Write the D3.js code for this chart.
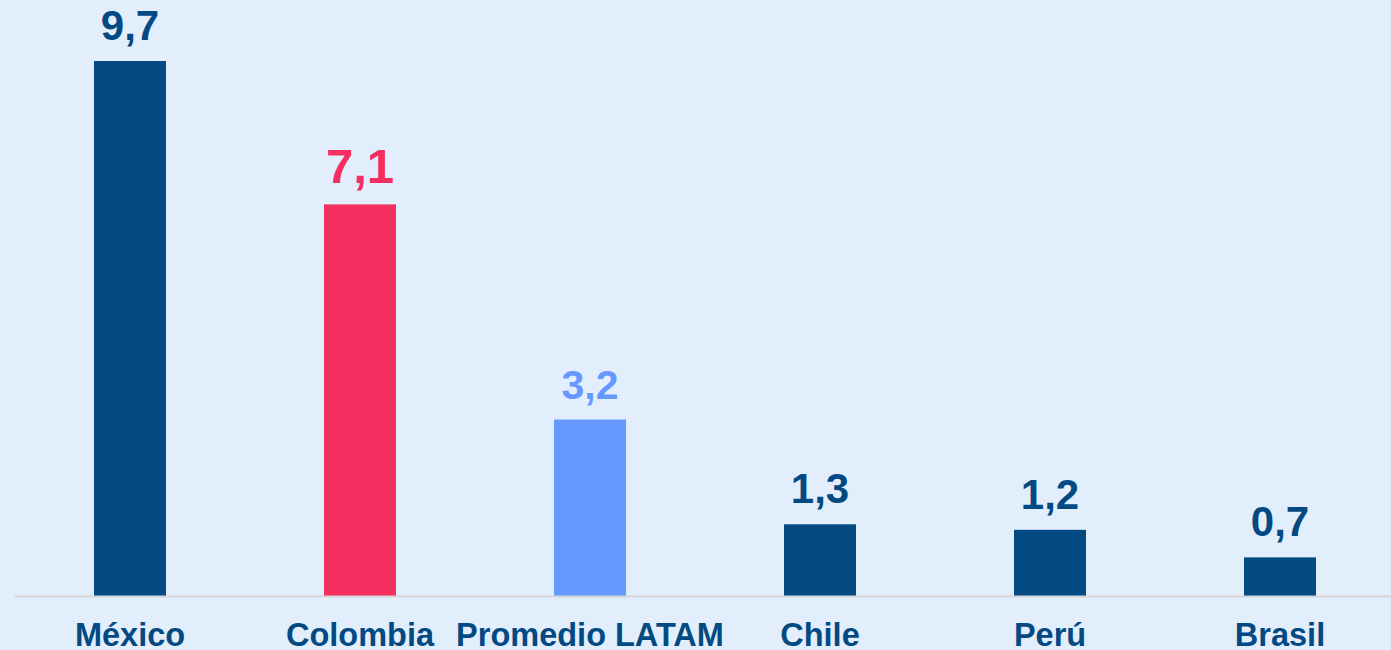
<!DOCTYPE html>
<html>
<head>
<meta charset="utf-8">
<script src="https://cdn.jsdelivr.net/npm/d3@7"></script>
<style>
  html, body { margin: 0; padding: 0; background: #e3eefd; }
  svg { display: block; font-family: "Liberation Sans", Arial, sans-serif; }
</style>
</head>
<body>
<svg id="chart"></svg>
<script>
// data
var countries = ["México", "Colombia", "Promedio LATAM", "Chile", "Perú", "Brasil"];
var values = [9.7, 7.1, 3.2, 1.3, 1.2, 0.7];
var barColors = ["#034a83", "#f53060", "#6699ff", "#034a83", "#034a83", "#034a83"];
var labelSizes = [42, 49, 41, 42, 42, 42];

var width = 1391, height = 650;
var baseY = 596;

var svg = d3.select("#chart").attr("width", width).attr("height", height);

svg.append("rect").attr("width", width).attr("height", height).attr("fill", "#e3eefd");

var x = d3.scaleBand()
    .domain(countries)
    .range([15, 1395])
    .paddingInner(0.687)
    .paddingOuter(0.3435);

var y = d3.scaleLinear()
    .domain([0, 9.7])
    .range([baseY, 61]);

var rows = countries.map(function (c, i) {
    return { name: c, value: values[i], color: barColors[i], size: labelSizes[i] };
});

// bars
svg.selectAll("rect.bar").data(rows).enter().append("rect")
    .attr("class", "bar")
    .attr("x", d => x(d.name))
    .attr("y", d => y(d.value))
    .attr("width", x.bandwidth())
    .attr("height", d => baseY - y(d.value))
    .attr("fill", d => d.color);

// baseline
svg.append("line")
    .attr("x1", 15).attr("x2", width)
    .attr("y1", baseY + 0.5).attr("y2", baseY + 0.5)
    .attr("stroke", "#d6d6d6")
    .attr("stroke-width", 2);

// value labels
svg.selectAll("text.val").data(rows).enter().append("text")
    .attr("class", "val")
    .attr("x", d => x(d.name) + x.bandwidth() / 2)
    .attr("y", d => y(d.value) - 21)
    .attr("text-anchor", "middle")
    .attr("font-weight", "bold")
    .attr("font-size", d => d.size + "px")
    .attr("fill", d => d.color)
    .text(d => d3.format(".1f")(d.value).replace(".", ","));

// category labels
var xAxis = svg.append("g")
    .attr("transform", "translate(0," + baseY + ")")
    .call(d3.axisBottom(x).tickSize(0).tickPadding(0));
xAxis.select(".domain").remove();
xAxis.selectAll("text")
    .attr("y", 50)
    .attr("dy", null)
    .attr("font-family", "'Liberation Sans', Arial, sans-serif")
    .attr("font-size", "32.5px")
    .attr("font-weight", "bold")
    .attr("fill", "#034a83");
</script>
</body>
</html>
